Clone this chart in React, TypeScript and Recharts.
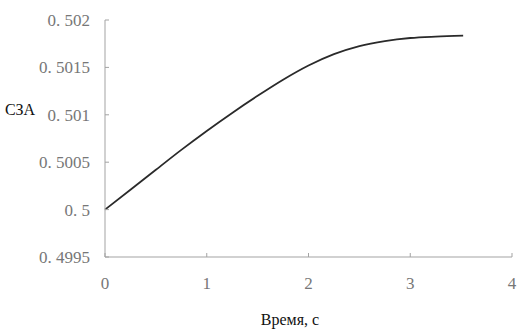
import { LineChart, Line, XAxis, YAxis, Label } from 'recharts';

// время, с
const times = [0, 0.25, 0.5, 0.75, 1, 1.25, 1.5, 1.75, 2, 2.25, 2.5, 2.75, 3, 3.25, 3.52];
// СЗА
const szaValues = [
  0.5, 0.50021, 0.50042, 0.50063, 0.50083, 0.50102, 0.5012, 0.50137, 0.50152, 0.50164,
  0.501725, 0.501778, 0.50181, 0.501825, 0.501835,
];

const xTicks = [0, 1, 2, 3, 4];
const yTicks = [0.4995, 0.5, 0.5005, 0.501, 0.5015, 0.502];
const yTickLabels = ['0. 4995', '0. 5', '0. 5005', '0. 501', '0. 5015', '0. 502'];

const data = times.map((t, i) => ({ t, sza: szaValues[i] }));

const AXIS_COLOR = '#a3a3a3';
const TICK_COLOR = '#777';
const FONT = "'Liberation Serif', 'DejaVu Serif', serif";

const YTick = ({ x, y, payload }: any) => {
  const idx = yTicks.indexOf(payload.value);
  return (
    <g>
      <line x1={x + 15} x2={x + 19} y1={y} y2={y} stroke={AXIS_COLOR} />
      <text x={x} y={y} dy="0.35em" textAnchor="end" fill={TICK_COLOR} fontFamily={FONT} fontSize={17}>
        {idx >= 0 ? yTickLabels[idx] : payload.value}
      </text>
    </g>
  );
};

const XTick = ({ x, y, payload }: any) => (
  <g>
    <line x1={x} x2={x} y1={y - 20} y2={y - 24} stroke={AXIS_COLOR} />
    <text x={x} y={y} dy="0.71em" textAnchor="middle" fill={TICK_COLOR} fontFamily={FONT} fontSize={17}>
      {payload.value}
    </text>
  </g>
);

export default function App() {
  return (
    <div style={{ position: 'absolute', left: 0, top: 0, width: 517, height: 329, background: '#fff' }}>
      <LineChart width={517} height={329} data={data} margin={{ top: 20, right: 5, left: 45, bottom: 32 }}>
        <XAxis
          type="number"
          dataKey="t"
          domain={[0, 4]}
          ticks={xTicks}
          tickSize={0}
          tickMargin={20}
          tickLine={false}
          axisLine={{ stroke: AXIS_COLOR }}
          tick={<XTick />}
          height={40}
        >
          <Label
            content={() => (
              <text x={290} y={325} textAnchor="middle" fill="#111" fontFamily={FONT} fontSize={16}>
                Время, с
              </text>
            )}
          />
        </XAxis>
        <YAxis
          type="number"
          domain={[0.4995, 0.502]}
          ticks={yTicks}
          tickSize={0}
          tickMargin={15}
          tickLine={false}
          axisLine={{ stroke: AXIS_COLOR }}
          tick={<YTick />}
          width={60}
        >
          <Label
            content={() => (
              <text x={20} y={115} textAnchor="middle" fill="#111" fontFamily={FONT} fontSize={16}>
                СЗА
              </text>
            )}
          />
        </YAxis>
        <Line
          type="monotone"
          dataKey="sza"
          stroke="#2a2a2a"
          strokeWidth={1.8}
          dot={false}
          isAnimationActive={false}
        />
      </LineChart>
    </div>
  );
}
